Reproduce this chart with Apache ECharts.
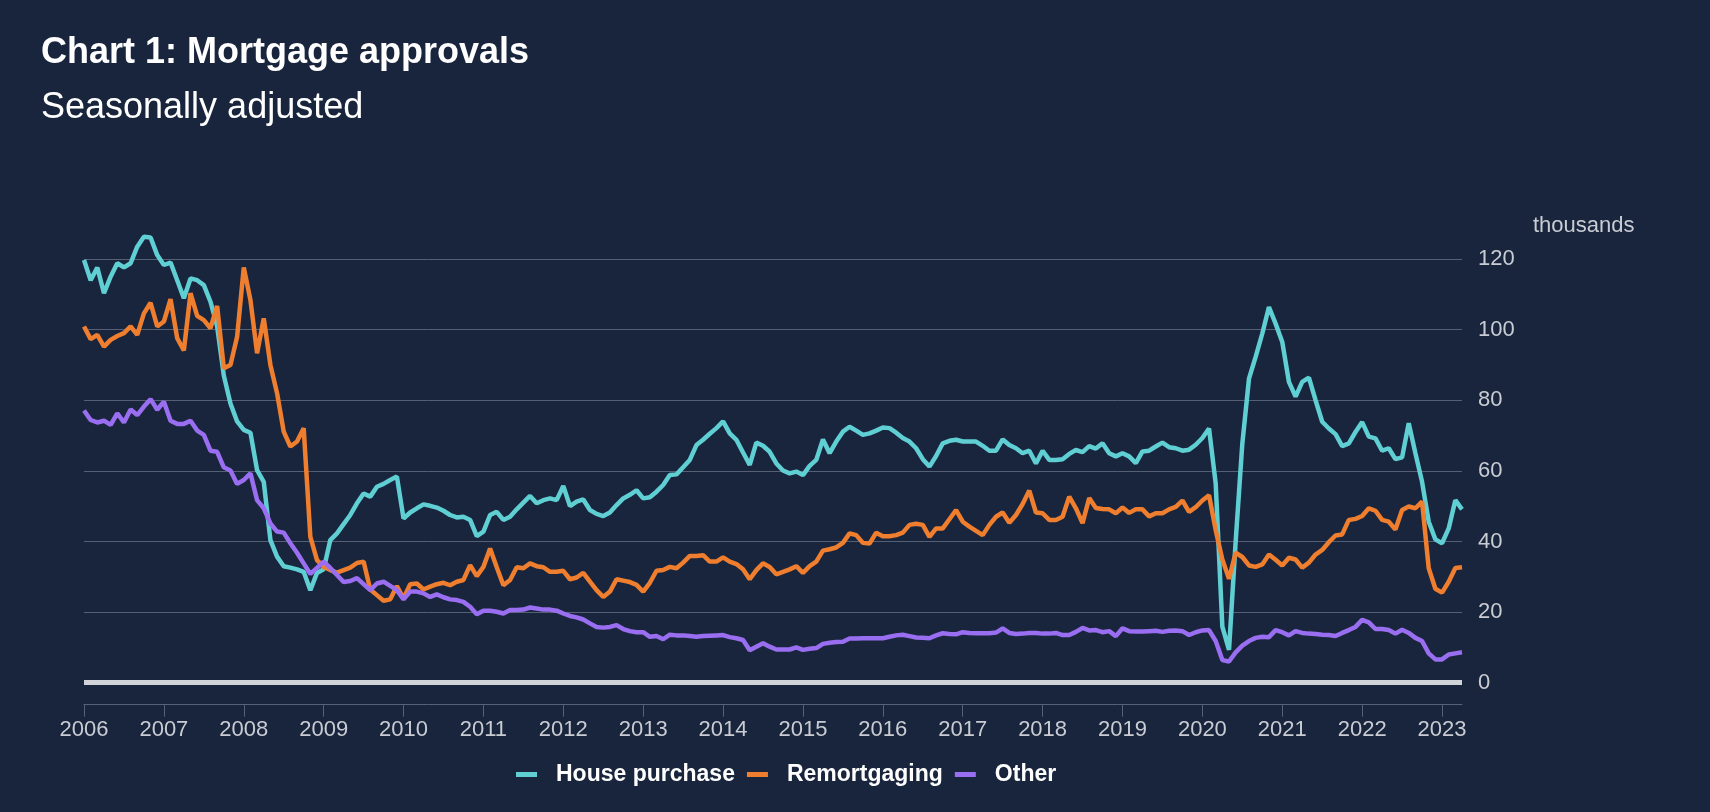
<!DOCTYPE html>
<html>
<head>
<meta charset="utf-8">
<script src="https://cdn.jsdelivr.net/npm/echarts@6/dist/echarts.min.js"></script>
<style>
html,body{margin:0;padding:0;background:#18253d;}
#chart{width:1710px;height:812px;}
</style>
</head>
<body>
<div id="chart"></div>
<script>
// Monthly categories: Jan 2006 .. Apr 2023
const startYear = 2006;
const monthCount = 208;
const months = [];
for (let i = 0; i < monthCount; i++) {
  const y = startYear + Math.floor(i / 12);
  const m = (i % 12) + 1;
  months.push(y + '-' + (m < 10 ? '0' + m : '' + m));
}
const yTicks = [0, 20, 40, 60, 80, 100, 120];

const housePurchase = [
119.7,114,117.6,110.3,115,118.8,117.6,118.8,123.5,126.3,126.1,121.1,118.3,119,114,108.9,114.5,114,112.6,107.9,
100.9,87,79.1,74,71.6,70.8,60.2,56.9,40.4,35.7,33,32.6,32.1,31.4,26.2,31.1,32.1,40.4,42.3,44.9,
47.5,50.8,53.6,52.7,55.5,56.3,57.4,58.4,46.5,48.2,49.4,50.5,50.1,49.6,48.7,47.5,46.8,47,46.1,41.5,
42.8,47.5,48.4,46.1,47,49.1,51,52.9,50.8,51.7,52.2,51.7,55.7,50,51.3,51.9,48.9,47.8,47.2,48.2,
50.3,52.2,53.2,54.5,52.2,52.5,54.1,56,58.8,59,61,63.1,67.3,68.8,70.5,72.1,74,70.6,68.8,65.2,
61.7,68,67.1,65.4,62.1,60.1,59.3,59.8,58.8,61.4,63.1,68.9,65,68.3,71.1,72.5,71.4,70.2,70.6,71.4,
72.3,72.1,70.8,69.3,68.3,66.4,63.3,61.2,64.2,67.8,68.5,68.8,68.3,68.3,68.3,67.1,65.7,65.7,68.9,67.3,
66.4,65,65.7,62.1,65.7,63.1,63.1,63.3,64.8,65.9,65.3,67,66.3,67.8,65,64.1,65,64.1,62.2,65.5,
65.7,66.9,68,66.7,66.4,65.7,66,67.4,69.3,72,56.4,15.9,9.3,40,67.7,86.1,92.3,98.9,106.4,101.7,
96.5,85.2,81,85.2,86.4,80,73.9,72,70.4,67,67.8,71,73.8,69.7,69.2,65.7,66.4,63.3,63.8,73.5,
65,56.9,45.6,40.6,39.5,43.7,51.7,49.1
];

const remortgaging = [
100.9,97.3,98.5,95.2,97.1,98.2,99,100.9,98.5,104.6,107.6,100.9,102.3,108.6,97.6,94.1,110.3,103.9,102.7,100.4,
106.7,89.1,90,98,117.6,108.4,93.3,103.2,90,82,71.1,66.9,68.3,72.1,41.3,34.7,32.8,31.9,31.2,31.9,
32.6,33.9,34.3,26.4,24.8,23.2,23.6,27.4,23.9,27.9,28.1,26.4,27.2,27.9,28.3,27.6,28.6,29.1,33.3,30.2,
32.8,38,32.7,27.6,29.1,32.7,32.4,33.8,33,32.7,31.4,31.4,31.7,29.3,29.8,31.1,28.6,26.2,24.3,25.8,
29.3,28.9,28.5,27.7,25.8,28.3,31.7,31.9,32.8,32.4,34,35.9,35.9,36.1,34.3,34.3,35.5,34.3,33.6,32.1,
29.3,31.9,33.8,32.8,30.7,31.4,32.1,33,31.1,33,34.3,37.4,37.8,38.3,39.6,42.3,41.8,39.6,39.4,42.5,
41.5,41.5,41.8,42.5,44.7,45,44.7,41.3,43.7,43.7,46.3,48.9,45.6,44.2,43,41.8,44.7,47,48.2,45.3,
47.5,50.6,54.4,48.2,48,46.1,46.1,47,52.7,49.4,45.2,52.3,49.5,49.2,49.1,48,49.6,48.1,49.1,49.1,
47.1,48,48,49.1,49.8,51.6,48.4,49.7,51.6,53.1,43.2,34.9,29.4,36.8,35.6,33.2,32.8,33.5,36.3,34.8,
33.2,35.4,34.9,32.6,34,36.3,37.6,39.8,41.7,42,46.1,46.4,47.2,49.4,48.7,46.1,45.6,43.4,48.9,49.9,
49.4,51.3,32.4,26.6,25.5,28.6,32.5,32.7
];

const other = [
77.1,74.4,73.7,74.2,73,76.3,73.7,77.4,75.8,78.2,80.3,77.3,79.6,74.2,73.3,73.3,74.2,71.4,70.2,65.7,
65.4,61,60.1,56.3,57.4,59.3,51.7,49.4,45.1,42.8,42.5,39.5,36.8,33.8,30.8,32.5,34.3,32.5,30.5,28.5,
28.8,29.6,27.9,26.2,28.1,28.6,27.4,26.2,23.6,25.8,25.8,25.3,24.3,25,24.2,23.6,23.4,22.9,21.5,19.4,
20.4,20.4,20.1,19.6,20.6,20.6,20.7,21.3,21,20.7,20.7,20.4,19.6,18.9,18.5,17.9,16.8,15.8,15.6,15.8,
16.3,15.2,14.6,14.3,14.3,13,13.2,12.3,13.6,13.4,13.4,13.2,13,13.2,13.3,13.4,13.5,12.9,12.6,12.1,
9.2,10.2,11.2,10.2,9.4,9.4,9.4,10,9.3,9.6,9.8,11,11.3,11.5,11.6,12.5,12.5,12.6,12.6,12.6,
12.6,13,13.4,13.6,13.2,12.8,12.7,12.6,13.4,14,13.8,13.7,14.3,14.1,14,14,14,14.2,15.4,14.1,
13.8,13.9,14.1,14.1,13.9,13.9,14.1,13.5,13.5,14.4,15.5,14.8,14.9,14.3,14.6,13.2,15.4,14.6,14.5,14.5,
14.6,14.7,14.4,14.7,14.8,14.6,13.5,14.3,14.8,14.9,11.8,6.4,6,8.6,10.5,11.8,12.7,13,12.9,14.9,
14.3,13.4,14.6,14.1,13.9,13.8,13.6,13.5,13.2,14.1,14.9,15.8,17.8,17.1,15.2,15.2,14.9,13.9,15,14.1,
12.7,11.8,8.3,6.6,6.6,8,8.3,8.6
];

const FONT = '"Liberation Sans", Arial, Helvetica, sans-serif';
const isJan = (i, v) => v.slice(5) === '01';

const chart = echarts.init(document.getElementById('chart'), null, {renderer: 'canvas'});
chart.setOption({
  backgroundColor: '#18253d',
  animation: false,
  textStyle: {fontFamily: FONT},
  title: [
    {text: 'Chart 1: Mortgage approvals', left: 41, top: 35, padding: 0,
     textStyle: {color: '#ffffff', fontSize: 36, fontWeight: 'bold', fontFamily: FONT}},
    {text: 'Seasonally adjusted', left: 41, top: 90, padding: 0,
     textStyle: {color: '#ffffff', fontSize: 36, fontWeight: 'normal', fontFamily: FONT}}
  ],
  graphic: [
    {type: 'text', left: 1533, top: 215, silent: true,
     style: {text: 'thousands', fill: '#c9ccd2', fontSize: 22, fontFamily: FONT}}
  ],
  legend: {
    left: 516, top: 763, padding: 0, itemGap: 12,
    icon: 'rect', itemWidth: 21, itemHeight: 5,
    textStyle: {color: '#ffffff', fontSize: 23, fontWeight: 'bold', fontFamily: FONT, padding: [0, 0, 0, 14]},
    data: ['House purchase', 'Remortgaging', 'Other']
  },
  grid: {left: 84, right: 248, top: 259, bottom: 129.3, containLabel: false},
  xAxis: {
    type: 'category',
    data: months,
    boundaryGap: false,
    offset: 22,
    axisLine: {show: true, onZero: false, lineStyle: {color: '#56617a', width: 1}},
    axisTick: {show: true, interval: isJan, length: 12, lineStyle: {color: '#56617a', width: 1}},
    axisLabel: {interval: isJan, formatter: v => v.slice(0, 4), color: '#c9ccd2', fontSize: 22, margin: 14, fontFamily: FONT},
    splitLine: {show: false}
  },
  yAxis: {
    type: 'value',
    position: 'right',
    min: yTicks[0], max: yTicks[yTicks.length - 1], interval: 20,
    axisLine: {show: false},
    axisTick: {show: false},
    axisLabel: {color: '#c9ccd2', fontSize: 22, margin: 16, fontFamily: FONT},
    splitLine: {show: true, lineStyle: {color: '#566074', width: 1}}
  },
  series: [
    {name: 'House purchase', type: 'line', data: housePurchase, clip: false, showSymbol: false, symbol: 'none',
     lineStyle: {color: '#5fcfd3', width: 4.5}, itemStyle: {color: '#5fcfd3'},
     markLine: {silent: true, symbol: 'none', label: {show: false}, animation: false,
       lineStyle: {color: '#d0d3d8', width: 5, type: 'solid'}, data: [{yAxis: 0}]}},
    {name: 'Remortgaging', type: 'line', data: remortgaging, clip: false, showSymbol: false, symbol: 'none',
     lineStyle: {color: '#ef7e2e', width: 4.5}, itemStyle: {color: '#ef7e2e'}},
    {name: 'Other', type: 'line', data: other, clip: false, showSymbol: false, symbol: 'none',
     lineStyle: {color: '#9a6ef0', width: 4.5}, itemStyle: {color: '#9a6ef0'}}
  ]
});
</script>
</body>
</html>
